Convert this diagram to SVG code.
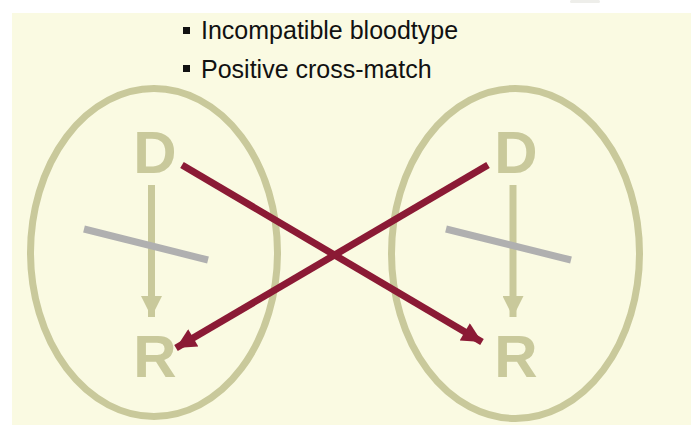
<svg xmlns="http://www.w3.org/2000/svg" width="691" height="425" viewBox="0 0 691 425">
<defs>
<style>
.bg{fill:#FAFAE2}
.oval{fill:none;stroke:#C9C99B;stroke-width:7}
.lbl{font-family:"Liberation Sans",Arial,sans-serif;font-weight:bold;font-size:60px;fill:#C9C99B;text-anchor:middle}
.txt{font-family:"Liberation Sans",Arial,sans-serif;font-size:25px;fill:#111}
.inner{stroke:#C9C99B;stroke-width:7;fill:none}
.block{stroke:#B0B0B0;stroke-width:7;fill:none}
.cross{stroke:#8B1A35;stroke-width:7;fill:none}
</style>
<marker id="ah-olive" viewBox="0 0 10 10" refX="10" refY="5" markerUnits="userSpaceOnUse" markerWidth="21" markerHeight="21" orient="auto"><path d="M0,0 L10,5 L0,10 Z" fill="#C9C99B"/></marker>
<marker id="ah-red" viewBox="0 0 10 10" refX="10" refY="5" markerUnits="userSpaceOnUse" markerWidth="24" markerHeight="20" orient="auto"><path d="M0,0 L10,5 L0,10 Z" fill="#8B1A35"/></marker>
</defs>
<rect x="570" y="0" width="30" height="3" rx="1.5" fill="#EEEEEA"/>
<rect class="bg" x="12" y="13" width="679" height="412"/>
<g id="bullets">
<rect x="183" y="27" width="7" height="7" fill="#111"/>
<text class="txt" x="201" y="39">Incompatible bloodtype</text>
<rect x="183" y="65" width="7" height="7" fill="#111"/>
<text class="txt" x="201" y="78">Positive cross-match</text>
</g>
<g id="pair-left">
<ellipse class="oval" cx="154" cy="252.5" rx="123.5" ry="164"/>
<text class="lbl" x="155" y="173">D</text>
<text class="lbl" x="155" y="377">R</text>
<line class="inner" x1="151.5" y1="185" x2="151.5" y2="317" marker-end="url(#ah-olive)"/>
<line class="block" x1="84" y1="229" x2="208" y2="260"/>
</g>
<g id="pair-right">
<ellipse class="oval" cx="515.5" cy="253.5" rx="124" ry="165"/>
<text class="lbl" x="516" y="173">D</text>
<text class="lbl" x="516" y="377">R</text>
<line class="inner" x1="513" y1="185" x2="513" y2="317" marker-end="url(#ah-olive)"/>
<line class="block" x1="446" y1="229" x2="571" y2="260"/>
</g>
<g id="connectors">
<line class="cross" x1="182" y1="165" x2="482" y2="342" marker-end="url(#ah-red)"/>
<line class="cross" x1="488" y1="165" x2="176" y2="348" marker-end="url(#ah-red)"/>
</g>
</svg>
